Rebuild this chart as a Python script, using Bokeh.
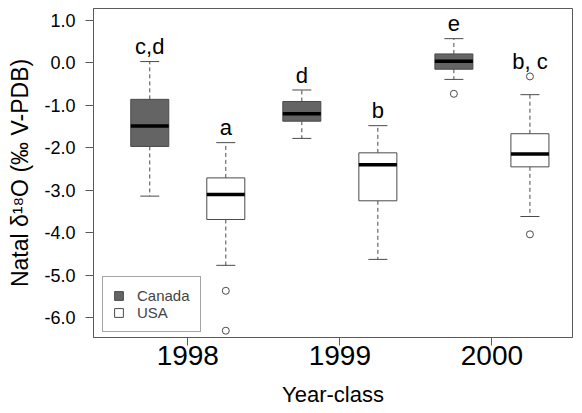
from bokeh.plotting import figure
from bokeh.models import (FixedTicker, Range1d, Legend, LegendItem, ColumnDataSource,
                          PrintfTickFormatter)
from bokeh.core.properties import value
from bokeh.embed import file_html
from bokeh.resources import INLINE

# ---- data ----
years = ["1998", "1999", "2000"]

canada_whisk_lo = [-3.14, -1.78, -0.39]
canada_q1       = [-1.97, -1.375, -0.15]
canada_median   = [-1.49, -1.20, 0.04]
canada_q3       = [-0.86, -0.91, 0.21]
canada_whisk_hi = [0.03, -0.64, 0.57]
canada_outliers = [[], [], [-0.73]]
canada_letters  = ["c,d", "d", "e"]

usa_whisk_lo = [-4.77, -4.63, -3.62]
usa_q1       = [-3.69, -3.25, -2.45]
usa_median   = [-3.10, -2.40, -2.15]
usa_q3       = [-2.71, -2.12, -1.67]
usa_whisk_hi = [-1.88, -1.48, -0.75]
usa_outliers = [[-5.37, -6.31], [], [-0.32, -4.04]]
usa_letters  = ["a", "b", "b, c"]

y_ticks = [1.0, 0.0, -1.0, -2.0, -3.0, -4.0, -5.0, -6.0]
x_title = "Year-class"
y_title = "Natal δ¹⁸O (‰ V-PDB)"

FONT = "Liberation Sans"
EDGE = "#4a4a4a"
AX = "#5a5a5a"

X0, X1, Y0, Y1 = 0.38, 3.53, -6.47, 1.28
p = figure(width=582, height=413, output_backend="svg", toolbar_location=None,
           x_range=Range1d(X0, X1), y_range=Range1d(Y0, Y1),
           min_border_left=93, min_border_right=10, min_border_top=8, min_border_bottom=76)
p.background_fill_color = "white"
p.border_fill_color = "white"
p.outline_line_color = AX
p.outline_line_width = 1
p.xgrid.visible = False
p.ygrid.visible = False

OFF = 0.25
BOXW = 0.25
CAPW = 0.0625


def draw_group(offset, lo, q1, med, q3, hi, outl, letters, fill):
    xs = [i + 1 + offset for i in range(len(years))]
    src = ColumnDataSource(dict(x=xs, lo=lo, q1=q1, med=med, q3=q3, hi=hi,
                                xl=[x - BOXW / 2 for x in xs], xr=[x + BOXW / 2 for x in xs],
                                cl=[x - CAPW for x in xs], cr=[x + CAPW for x in xs],
                                top=[max([h] + o) for h, o in zip(hi, outl)],
                                lab=letters))
    p.segment(x0="x", y0="q3", x1="x", y1="hi", source=src, line_color=EDGE,
              line_width=1, line_dash="4 3")
    p.segment(x0="x", y0="q1", x1="x", y1="lo", source=src, line_color=EDGE,
              line_width=1, line_dash="4 3")
    p.segment(x0="cl", y0="hi", x1="cr", y1="hi", source=src, line_color=EDGE, line_width=1)
    p.segment(x0="cl", y0="lo", x1="cr", y1="lo", source=src, line_color=EDGE, line_width=1)
    r = p.vbar(x="x", width=BOXW, top="q3", bottom="q1", source=src,
               fill_color=fill, line_color=EDGE, line_width=1)
    p.segment(x0="xl", y0="med", x1="xr", y1="med", source=src, line_color="black",
              line_width=3.5)
    ox, oy = [], []
    for x, o in zip(xs, outl):
        for v in o:
            ox.append(x)
            oy.append(v)
    if ox:
        p.scatter(ox, oy, marker="circle", size=7, fill_color=None,
                  line_color=EDGE, line_width=1)
    p.text(x="x", y="top", text="lab", source=src, text_font=value(FONT),
           text_font_size="22px", text_align="center", text_baseline="middle",
           y_offset=-15, text_color="black")
    return r


r_can = draw_group(-OFF, canada_whisk_lo, canada_q1, canada_median, canada_q3,
                   canada_whisk_hi, canada_outliers, canada_letters, "#646464")
r_usa = draw_group(OFF, usa_whisk_lo, usa_q1, usa_median, usa_q3,
                   usa_whisk_hi, usa_outliers, usa_letters, "white")

# axes
p.xaxis.ticker = FixedTicker(ticks=[1, 2, 3])
p.xaxis.major_label_overrides = {1: years[0], 2: years[1], 3: years[2]}
p.xaxis.axis_label = x_title
p.yaxis.ticker = FixedTicker(ticks=y_ticks)
p.yaxis.formatter = PrintfTickFormatter(format="%.1f")
p.yaxis.axis_label = y_title
p.yaxis.major_label_orientation = "horizontal"

for ax in (p.xaxis[0], p.yaxis[0]):
    ax.axis_line_color = AX
    ax.major_tick_line_color = AX
    ax.minor_tick_line_color = None
    ax.major_tick_in = 0
    ax.major_tick_out = 8
    ax.major_label_text_font = FONT
    ax.major_label_text_color = "black"
    ax.axis_label_text_font = FONT
    ax.axis_label_text_font_style = "normal"
    ax.axis_label_text_color = "black"

p.xaxis.major_label_text_font_size = "28px"
p.xaxis.major_label_standoff = 0
p.xaxis.axis_label_text_font_size = "22px"
p.xaxis.axis_label_standoff = 14
p.yaxis.major_label_text_font_size = "18px"
p.yaxis.major_label_standoff = 10
p.yaxis.axis_label_text_font_size = "23px"
p.yaxis.axis_label_standoff = 8

legend = Legend(items=[LegendItem(label="Canada", renderers=[r_can]),
                       LegendItem(label="USA", renderers=[r_usa])],
                location=(9, 5), orientation="vertical")
legend.label_text_font = FONT
legend.label_text_font_size = "15px"
legend.glyph_width = 11
legend.glyph_height = 11
legend.label_height = 17
legend.label_standoff = 13
legend.padding = 10
legend.spacing = 0
legend.margin = 0
legend.border_line_color = EDGE
legend.border_line_width = 1
legend.background_fill_color = "white"
legend.background_fill_alpha = 1
p.add_layout(legend)

open("out.html", "w").write(file_html(p, INLINE))
